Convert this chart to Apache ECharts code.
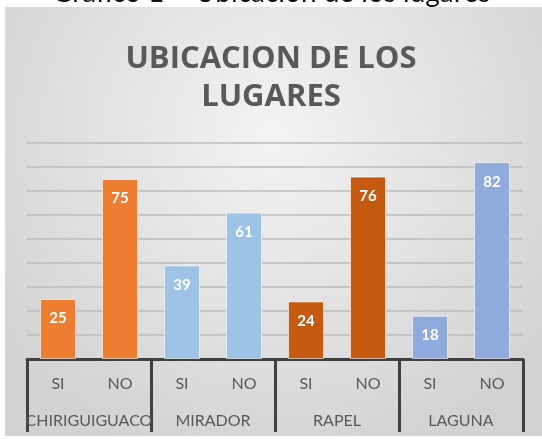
<!DOCTYPE html>
<html>
<head>
<meta charset="utf-8">
<script src="https://cdn.jsdelivr.net/npm/echarts@6/dist/echarts.min.js"></script>
<style>
  html, body { margin: 0; padding: 0; background: #fff; }
  #chart { width: 542px; height: 439px; }
</style>
</head>
<body>
<div id="chart"></div>
<script>
  // datos del gráfico
  const groups = ['CHIRIGUIGUACO', 'MIRADOR', 'RAPEL', 'LAGUNA'];
  const answers = ['SI', 'NO', 'SI', 'NO', 'SI', 'NO', 'SI', 'NO'];
  const values = [25, 75, 39, 61, 24, 76, 18, 82];
  const groupColors = ['#ED7D31', '#9DC3E6', '#C55A11', '#8FAADC'];

  const myChart = echarts.init(document.getElementById('chart'));

  const option = {
    animation: false,
    textStyle: { fontFamily: 'Lato, "Open Sans", sans-serif' },
    graphic: [
      { // fondo con degradado
        type: 'rect',
        left: 5, top: 7,
        shape: { width: 537, height: 429 },
        z: -10,
        style: {
          fill: {
            type: 'radial', x: 0.5, y: 0.3, r: 0.8,
            colorStops: [
              { offset: 0, color: '#f3f3f3' },
              { offset: 1, color: '#d2d2d2' }
            ]
          }
        }
      },
      { // pie del documento cortado arriba
        type: 'text',
        left: 52, top: -21,
        z: 10,
        style: {
          text: 'Gráfico 1 – Ubicación de los lugares',
          fontFamily: 'Lato',
          fontSize: 28,
          fill: '#111'
        }
      }
    ],
    title: {
      text: 'UBICACION DE LOS\nLUGARES',
      left: 'center',
      top: 35,
      padding: [5, 18, 5, 0],
      textStyle: {
        fontFamily: '"Open Sans", sans-serif',
        fontSize: 31,
        fontWeight: 'bold',
        color: '#595959',
        lineHeight: 38
      }
    },
    grid: { left: 27, right: 19, top: 143, bottom: 80 },
    xAxis: [{
      type: 'category',
      data: answers,
      axisLine: { lineStyle: { color: '#404040', width: 3 } },
      axisTick: { show: false },
      axisLabel: { color: '#595959', fontSize: 16, margin: 17, interval: 0 }
    }, {
      type: 'category',
      position: 'bottom',
      data: groups,
      axisLine: { show: false },
      axisTick: { show: true, length: 73, interval: 0, lineStyle: { color: '#404040', width: 3 } },
      axisLabel: { color: '#595959', fontSize: 16, margin: 54, interval: 0 },
      splitLine: { show: false }
    }],
    yAxis: {
      type: 'value',
      min: 0, max: 90, interval: 10,
      axisLabel: { show: false },
      axisLine: { show: false },
      axisTick: { show: false },
      splitLine: { lineStyle: { color: '#bdbdbd', width: 1.5 } }
    },
    series: [{
      type: 'bar',
      barWidth: 36,
      data: values.map((v, i) => ({
        value: v,
        itemStyle: { color: groupColors[Math.floor(i / 2)] }
      })),
      itemStyle: { borderColor: 'rgba(255,255,255,0.6)', borderWidth: 1 },
      label: {
        show: true,
        position: 'insideTop',
        distance: 12,
        color: '#fff',
        fontWeight: 'bold',
        fontSize: 15
      }
    }]
  };
  myChart.setOption(option);
</script>
</body>
</html>
